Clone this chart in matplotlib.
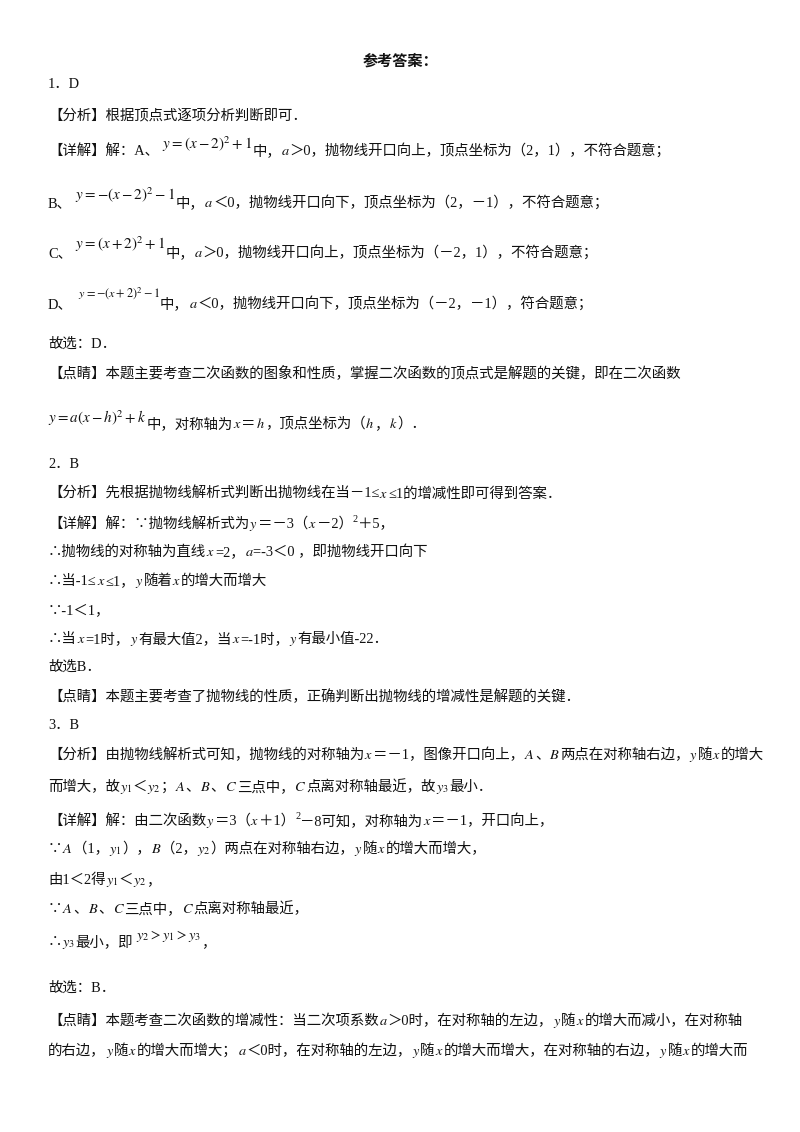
import matplotlib
matplotlib.use("Agg")
import matplotlib.pyplot as plt

plt.rcParams['mathtext.fontset'] = 'stix'

W, H = 800, 1132
FS = 10.4
FAM = ['Liberation Serif', 'Noto Sans CJK SC', 'DejaVu Sans']
COLOR = '#111111'

title = "参考答案："

# each line: list of pieces; "$...$" pieces are math, tuples are (text, rise_px, size_scale)
lines = [
    ["1．D"],
    ["【分析】根据顶点式逐项分析判断即可．"],
    ["【详解】解：A、", (r"$\ y=\left(x-2\right)^2+1$", 6, 1.05), "中，", "$a$",
     "＞0，抛物线开口向上，顶点坐标为（2，1），不符合题意；"],
    ["B、", (r"$\ y=-\left(x-2\right)^2-1$", 7, 1.05), "中，", "$a$",
     "＜0，抛物线开口向下，顶点坐标为（2，－1），不符合题意；"],
    ["C、", (r"$\ y=\left(x+2\right)^2+1$", 8, 1.05), "中，", "$a$",
     "＞0，抛物线开口向上，顶点坐标为（－2，1），不符合题意；"],
    ["D、", (r"$\ \ y=-(x+2)^2-1$", 11, 0.85), "中，", "$a$",
     "＜0，抛物线开口向下，顶点坐标为（－2，－1），符合题意；"],
    ["故选：D．"],
    ["【点睛】本题主要考查二次函数的图象和性质，掌握二次函数的顶点式是解题的关键，即在二次函数"],
    [(r"$y=a\left(x-h\right)^2+k$", 5, 1.05), "中，对称轴为", "$x$", "＝", "$h$",
     "，顶点坐标为（", "$h$", "，", "$k$", "）．"],
    ["2．B"],
    ["【分析】先根据抛物线解析式判断出抛物线在当－1≤", "$x$", "≤1的增减性即可得到答案．"],
    ["【详解】解：∵抛物线解析式为", "$y$", "＝－3（", "$x$", "－2）", ("2", 6, 0.7), "＋5，"],
    ["∴抛物线的对称轴为直线", "$x$", "=2，", "$a$", "=-3＜0 ，即抛物线开口向下"],
    ["∴当-1≤", "$x$", "≤1，", "$y$", "随着", "$x$", "的增大而增大"],
    ["∵-1＜1，"],
    ["∴当", "$x$", "=1时，", "$y$", "有最大值2，当", "$x$", "=-1时，", "$y$", "有最小值-22．"],
    ["故选B．"],
    ["【点睛】本题主要考查了抛物线的性质，正确判断出抛物线的增减性是解题的关键．"],
    ["3．B"],
    ["【分析】由抛物线解析式可知，抛物线的对称轴为", "$x$", "＝－1，图像开口向上，", "$A$", "、",
     "$B$", "两点在对称轴右边，", "$y$", "随", "$x$", "的增大"],
    ["而增大，故", "$y_1$", "＜", "$y_2$", "；", "$A$", "、", "$B$", "、", "$C$", "三点中，",
     "$C$", "点离对称轴最近，故", "$y_3$", "最小．"],
    ["【详解】解：由二次函数", "$y$", "＝3（", "$x$", "＋1）", ("2", 6, 0.7), "－8可知，对称轴为",
     "$x$", "＝－1，开口向上，"],
    ["∵", "$A$", "（1，", "$y_1$", "），", "$B$", "（2，", "$y_2$", "）两点在对称轴右边，",
     "$y$", "随", "$x$", "的增大而增大，"],
    ["由1＜2得", "$y_1$", "＜", "$y_2$", "，"],
    ["∵", "$A$", "、", "$B$", "、", "$C$", "三点中，", "$C$", "点离对称轴最近，"],
    ["∴", "$y_3$", "最小，即", (r"$\ y_2>y_1>y_3$", 7, 1.0), "，"],
    ["故选：B．"],
    ["【点睛】本题考查二次函数的增减性：当二次项系数", "$a$", "＞0时，在对称轴的左边，", "$y$", "随",
     "$x$", "的增大而减小，在对称轴"],
    ["的右边，", "$y$", "随", "$x$", "的增大而增大；", "$a$", "＜0时，在对称轴的左边，", "$y$", "随",
     "$x$", "的增大而增大，在对称轴的右边，", "$y$", "随", "$x$", "的增大而"],
]

# vertical centre of each line on the page (px from top)
line_y = [83, 114, 150, 202, 252, 303, 343, 372, 423, 463, 493, 523, 551, 580, 609,
          638, 666, 696, 724, 754, 786, 820, 848, 879, 908, 941, 987, 1020, 1050]

fig = plt.figure(figsize=(W / 100, H / 100), dpi=100)
fig.patch.set_facecolor('white')
renderer = fig.canvas.get_renderer()

fig.text(400 / W, 1 - (61 + 5) / H, title, fontsize=FS + 0.5, fontfamily=FAM,
         fontweight='bold', ha='center', va='baseline', color=COLOR)


def draw_line(x, base, pieces):
    for p in pieces:
        if isinstance(p, tuple):
            txt, rise, scale = p
        else:
            txt, rise, scale = p, 0, 1.0
        t = fig.text(x / W, 1 - (base - rise) / H, txt, fontsize=FS * scale,
                     fontfamily=FAM, va='baseline', ha='left', color=COLOR)
        bb = t.get_window_extent(renderer=renderer)
        x += bb.width


for pieces, yc in zip(lines, line_y):
    draw_line(48, yc + 5, pieces)

fig.savefig('out.png', dpi=100, facecolor='white')
